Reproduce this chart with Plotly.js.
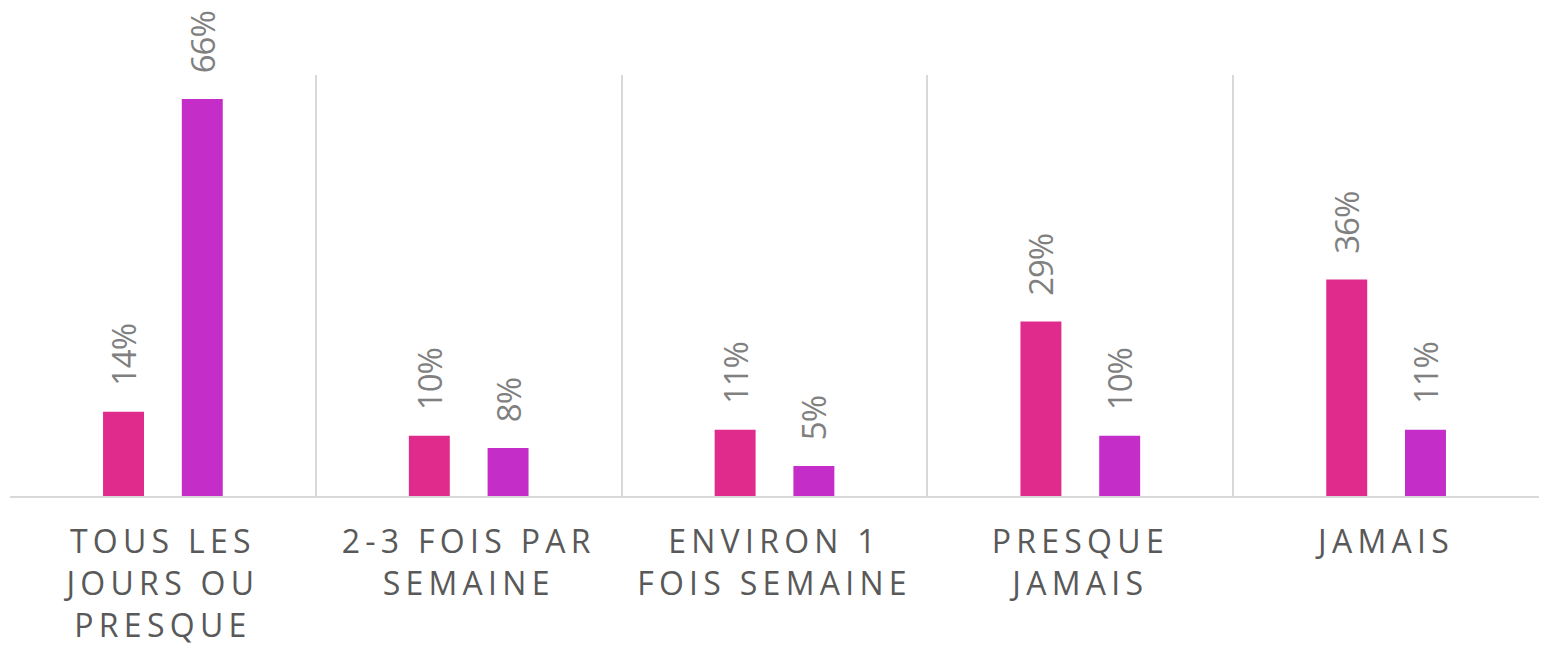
<!DOCTYPE html>
<html>
<head>
<meta charset="utf-8">
<script src="https://cdn.plot.ly/plotly-3.0.1.min.js"></script>
<style>
  html, body { margin: 0; padding: 0; background: #fff; }
  #plotDiv { width: 1541px; height: 647px; }
  .xtick text { letter-spacing: 0.165em; }
  .bartext { letter-spacing: -1px; }
</style>
</head>
<body>
<div id="plotDiv"></div>
<script>
// categories (x axis labels)
const categories = [
  "TOUS LES<br>JOURS OU<br>PRESQUE",
  "2-3 FOIS PAR<br>SEMAINE",
  "ENVIRON 1<br>FOIS SEMAINE",
  "PRESQUE<br>JAMAIS",
  "JAMAIS"
];

// series values in percent
const serie1 = [14, 10, 11, 29, 36];
const serie2 = [66, 8, 5, 10, 11];

const labelFont = { family: "Open Sans, sans-serif", size: 33, color: "#808080" };
// non-breaking spaces push the rotated value labels away from the bar top
const labelPad = "\u00a0\u00a0\u00a0";

function barTrace(name, values, color) {
  return {
    type: "bar",
    name: name,
    x: categories,
    y: values,
    marker: { color: color },
    text: values.map((v) => labelPad + v + "%"),
    textposition: "outside",
    textangle: -90,
    textfont: labelFont,
    constraintext: "none",
    cliponaxis: false,
    hoverinfo: "x+y",
  };
}

const traces = [
  barTrace("Série 1", serie1, "#e12b8c"),
  barTrace("Série 2", serie2, "#c42dc8"),
];

const layout = {
  width: 1541,
  height: 647,
  margin: { l: 10, r: 2, t: 75, b: 151 },
  paper_bgcolor: "#ffffff",
  plot_bgcolor: "#ffffff",
  showlegend: false,
  barmode: "group",
  bargap: 0.485,
  bargroupgap: 0.48,
  xaxis: {
    type: "category",
    tickson: "boundaries",
    showgrid: true,
    gridcolor: "#d9d9d9",
    gridwidth: 2,
    showline: true,
    linecolor: "#d9d9d9",
    linewidth: 2,
    ticks: "",
    ticklabelstandoff: 17,
    tickfont: { family: "Open Sans, sans-serif", size: 32, color: "#595959" },
    fixedrange: true,
  },
  yaxis: {
    range: [0, 70],
    showgrid: false,
    zeroline: false,
    showticklabels: false,
    showline: false,
    fixedrange: true,
  },
};

Plotly.newPlot("plotDiv", traces, layout, { displayModeBar: false, staticPlot: true });
</script>
</body>
</html>
